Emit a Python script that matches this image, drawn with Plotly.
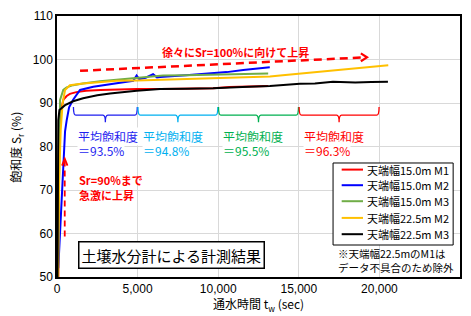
import plotly.graph_objects as go

# ---- data ----
series_names = ["天端幅15.0m M1", "天端幅15.0m M2", "天端幅15.0m M3", "天端幅22.5m M2", "天端幅22.5m M3"]
series_colors = ["#FF0000", "#0000FF", "#70AD47", "#FFC000", "#000000"]

t_m1_15 = [80, 130, 200, 290, 400, 600, 800, 1200, 1800, 2700, 3500, 4960, 6400, 8000, 9700, 10700, 12000, 13100]
sr_m1_15 = [50, 80, 87.5, 89.0, 90.8, 91.6, 92.1, 92.5, 92.8, 93.0, 93.1, 93.2, 93.2, 93.3, 93.4, 93.7, 93.8, 93.9]

t_m2_15 = [80, 120, 200, 300, 400, 500, 600, 750, 990, 1430, 2250, 3700, 4730, 4940, 5100, 5500, 5960, 6200, 6390, 8000, 9500, 10530, 11550, 12500, 13200]
sr_m2_15 = [52, 55, 62, 70, 78, 83.5, 86, 89, 90.7, 93.0, 93.75, 94.5, 95.1, 96.3, 95.5, 95.8, 96.6, 95.9, 96.0, 96.4, 96.8, 97.1, 97.6, 97.9, 98.2]

t_m3_15 = [60, 100, 143, 190, 390, 600, 1000, 1600, 2670, 3700, 4720, 5500, 6580, 8000, 10000, 11500, 13100]
sr_m3_15 = [52, 70, 88.4, 90.7, 93.0, 93.6, 94.1, 94.5, 95.0, 95.3, 95.7, 96.0, 96.3, 96.4, 96.5, 96.7, 96.8]

t_m2_22 = [70, 130, 230, 350, 500, 800, 1630, 2670, 3700, 4960, 5770, 7500, 9000, 10530, 12000, 13210, 14000, 15070, 16200, 17350, 18500, 19830, 20550]
sr_m2_22 = [50, 72, 83.8, 90, 93, 94.1, 94.5, 94.8, 95.1, 95.2, 95.3, 95.5, 95.7, 95.8, 96.0, 96.1, 96.4, 96.8, 97.2, 97.6, 98.0, 98.5, 98.7]

t_m3_22 = [30, 60, 80, 150, 500, 1000, 1620, 2500, 3290, 4940, 6390, 8000, 9680, 11500, 13210, 15070, 16000, 17120, 18500, 19500, 20530]
sr_m3_22 = [50, 66, 86, 88.4, 89.5, 90.4, 91.1, 91.8, 92.2, 92.8, 93.2, 93.3, 93.4, 93.7, 93.9, 94.4, 94.5, 94.9, 94.7, 94.8, 94.9]

x_ticks = [0, 5000, 10000, 15000, 20000, 25000]
x_tick_labels = ["0", "5,000", "10,000", "15,000", "20,000", "25,000"]
y_ticks = [50, 60, 70, 80, 90, 100, 110]

# average saturation per period
avg_ranges = [(1000, 5000), (5000, 10000), (10000, 15000), (15000, 20000)]
avg_values = ["93.5%", "94.8%", "95.5%", "96.3%"]
avg_colors = ["#1E1EF0", "#00B0F0", "#00B050", "#FF0000"]

ts = [t_m1_15, t_m2_15, t_m3_15, t_m2_22, t_m3_22]
srs = [sr_m1_15, sr_m2_15, sr_m3_15, sr_m2_22, sr_m3_22]

JP = "Noto Sans CJK JP"
LAT = "Liberation Sans, Noto Sans CJK JP"

fig = go.Figure()
for name, col, t, s in zip(series_names, series_colors, ts, srs):
    fig.add_trace(go.Scatter(x=t, y=s, mode="lines", name=name,
                             line=dict(color=col, width=2), showlegend=False))

shapes = []
annotations = []

# braces + average labels
for (a, b), val, col in zip(avg_ranges, avg_values, avg_colors):
    x0 = a + 20
    x1 = b - 20
    xm = (x0 + x1) / 2
    d = 150
    ytop, ymid, ybot = 89.1, 87.2, 85.6
    path = (f"M {x0},{ytop} Q {x0},{ymid} {x0+d},{ymid} L {xm-d},{ymid} "
            f"Q {xm},{ymid} {xm},{ybot} Q {xm},{ymid} {xm+d},{ymid} "
            f"L {x1-d},{ymid} Q {x1},{ymid} {x1},{ytop}")
    shapes.append(dict(type="path", path=path, xref="x", yref="y",
                       line=dict(color=col, width=1.3)))
    annotations.append(dict(x=a + 250, y=82.4, xref="x", yref="y", text="平均飽和度",
                            showarrow=False, xanchor="left", yanchor="middle",
                            font=dict(family=JP, size=12, color=col),
                            bgcolor="white", borderpad=0))
    annotations.append(dict(x=a + 250, y=79.0, xref="x", yref="y", text="＝" + val,
                            showarrow=False, xanchor="left", yanchor="middle",
                            font=dict(family=JP, size=12, color=col),
                            bgcolor="white", borderpad=0))

# long dashed red arrow
shapes.append(dict(type="line", x0=1430, y0=97.4, x1=19150, y1=100.5, xref="x", yref="y",
                   line=dict(color="#FF0000", width=2.5, dash="8px,5px")))
shapes.append(dict(type="path", xref="x", yref="y",
                   path="M 18850,101.4 L 19230,100.5 L 18850,99.6",
                   line=dict(color="#FF0000", width=2.2)))
annotations.append(dict(x=11100, y=101.7, xref="x", yref="y", text="<b>徐々にSr=100%に向けて上昇</b>",
                        showarrow=False, font=dict(family=JP, size=11, color="#FF0000")))

# vertical dashed arrow
shapes.append(dict(type="line", x0=480, y0=59.3, x1=480, y1=76.6, xref="x", yref="y",
                   line=dict(color="#FF0000", width=1.8, dash="6px,4px")))
shapes.append(dict(type="path", xref="x", yref="y",
                   path="M 310,75.6 L 480,77.2 L 650,75.6",
                   line=dict(color="#FF0000", width=1.8)))
annotations.append(dict(x=1230, y=72.3, xref="x", yref="y", text="<b>Sr=90%まで</b>",
                        showarrow=False, xanchor="left",
                        font=dict(family=JP, size=11, color="#FF0000")))
annotations.append(dict(x=1230, y=68.9, xref="x", yref="y", text="<b>急激に上昇</b>",
                        showarrow=False, xanchor="left",
                        font=dict(family=JP, size=11, color="#FF0000")))

# title box
annotations.append(dict(x=7130, y=55.1, xref="x", yref="y", text="土壌水分計による計測結果",
                        showarrow=False, font=dict(family=JP, size=15, color="#000000"),
                        bgcolor="white", bordercolor="#000000", borderwidth=1.5,
                        borderpad=2))

# note
annotations.append(dict(x=17300, y=55.5, xref="x", yref="y", text="※天端幅22.5mのM1は",
                        showarrow=False, xanchor="left",
                        font=dict(family=JP, size=10.5, color="#000000")))
annotations.append(dict(x=17300, y=52.1, xref="x", yref="y", text="データ不具合のため除外",
                        showarrow=False, xanchor="left",
                        font=dict(family=JP, size=10.5, color="#000000")))

# manual legend (paper coordinates)
leg_x0, leg_x1, leg_y0, leg_y1 = 0.685, 0.983, 0.1226, 0.4368
shapes.append(dict(type="rect", xref="paper", yref="paper", x0=leg_x0, x1=leg_x1,
                   y0=leg_y0, y1=leg_y1, fillcolor="white",
                   line=dict(color="#000000", width=1), layer="above"))
leg_item_y = [0.4115, 0.3517, 0.2904, 0.2264, 0.1640]
for name, col, yy in zip(series_names, series_colors, leg_item_y):
    shapes.append(dict(type="line", xref="paper", yref="paper", x0=0.7064, x1=0.7593,
                       y0=yy, y1=yy, line=dict(color=col, width=2), layer="above"))
    annotations.append(dict(x=0.764, y=yy, xref="paper", yref="paper", text=name,
                            showarrow=False, xanchor="left", yanchor="middle",
                            font=dict(family=JP, size=11, color="#000000")))

# axis titles
annotations.append(dict(x=0.4988, y=-0.107, xref="paper", yref="paper",
                        text="通水時間 t<sub>w</sub> (sec)", showarrow=False,
                        xanchor="center", yanchor="middle",
                        font=dict(family=JP, size=12, color="#000000")))
annotations.append(dict(x=-0.0993, y=0.499, xref="paper", yref="paper",
                        text="飽和度 S<sub>r</sub> (%)", showarrow=False, textangle=-90,
                        xanchor="center", yanchor="middle",
                        font=dict(family=JP, size=12, color="#000000")))

fig.update_layout(
    width=471, height=316,
    margin=dict(l=57, r=11, t=16, b=39, autoexpand=False),
    paper_bgcolor="white", plot_bgcolor="white",
    font=dict(family=LAT, size=12, color="#000000"),
    shapes=shapes, annotations=annotations,
    showlegend=False,
    xaxis=dict(range=[0, 25000], tickvals=x_ticks, ticktext=x_tick_labels,
               showgrid=True, gridcolor="#D9D9D9", gridwidth=1,
               showline=True, linecolor="#000000", linewidth=1.5, mirror=True,
               ticks="", zeroline=False, automargin=False,
               tickfont=dict(family=LAT, size=12)),
    yaxis=dict(range=[50, 110], tickvals=y_ticks,
               showgrid=True, gridcolor="#D9D9D9", gridwidth=1,
               showline=True, linecolor="#000000", linewidth=1.5, mirror=True,
               ticks="", zeroline=False, automargin=False,
               tickfont=dict(family=LAT, size=12)),
)

fig.write_html("out.html", config={"displayModeBar": False},
               post_script="document.body.style.margin='0';document.body.style.overflow='hidden';")
